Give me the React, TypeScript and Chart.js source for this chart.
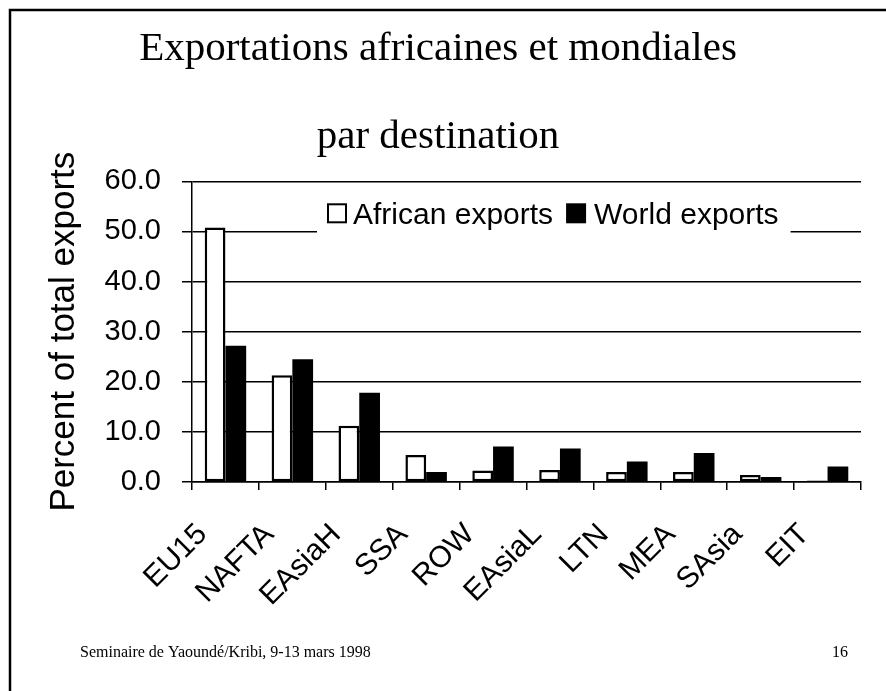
import React, { useEffect, useRef } from 'react';
import { Chart, registerables } from 'chart.js';

Chart.register(...registerables);

const categories = ['EU15', 'NAFTA', 'EAsiaH', 'SSA', 'ROW', 'EAsiaL', 'LTN', 'MEA', 'SAsia', 'EIT'];
const africanExports = [50.8, 21.3, 11.2, 5.4, 2.3, 2.4, 2.0, 2.0, 1.4, 0.3];
const worldExports = [27.2, 24.5, 17.8, 2.0, 7.1, 6.7, 4.1, 5.8, 1.0, 3.1];
const seriesLabels = ['African exports', 'World exports'];
const yMin = 0;
const yMax = 60;
const yStep = 10;
const titleLines = ['Exportations africaines et mondiales', 'par destination'];
const yAxisTitle = 'Percent of total exports';
const footerLeft = 'Seminaire de Yaoundé/Kribi, 9-13 mars 1998';
const footerRight = '16';

const SANS = '"Liberation Sans", Arial, Helvetica, sans-serif';
const SERIF = '"Liberation Serif", "Times New Roman", serif';

const framePlugin = {
  id: 'frame',
  beforeDraw(chart: any) {
    const { ctx, width, height } = chart;
    ctx.save();
    ctx.fillStyle = '#ffffff';
    ctx.fillRect(0, 0, width, height);
    ctx.strokeStyle = '#000000';
    ctx.lineWidth = 2.5;
    ctx.beginPath();
    ctx.moveTo(10, height);
    ctx.lineTo(10, 10);
    ctx.lineTo(width + 5, 10);
    ctx.stroke();
    ctx.restore();
  },
};

const insideLegendPlugin = {
  id: 'insideLegend',
  afterDatasetsDraw(chart: any) {
    const { ctx, chartArea } = chart;
    const left = chartArea.left;
    const top = chartArea.top;
    ctx.save();
    ctx.font = `30px ${SANS}`;
    ctx.textBaseline = 'middle';
    ctx.textAlign = 'left';
    const w1 = ctx.measureText(chart.data.datasets[0].label).width;
    const w2 = ctx.measureText(chart.data.datasets[1].label).width;
    const bgLeft = left + 125;
    const sq = 20;
    const sq1x = bgLeft + 10;
    const t1x = sq1x + sq + 6;
    const sq2x = t1x + w1 + 13;
    const t2x = sq2x + sq + 8;
    const bgRight = t2x + w2 + 12;
    const cy = top + 34;
    ctx.fillStyle = '#ffffff';
    ctx.fillRect(bgLeft, top + 15, bgRight - bgLeft, 42);
    ctx.lineWidth = 2;
    ctx.strokeStyle = '#000000';
    ctx.fillStyle = '#ffffff';
    ctx.fillRect(sq1x, cy - sq / 2 - 2, sq, sq);
    ctx.strokeRect(sq1x + 1, cy - sq / 2 - 1, sq - 2, sq - 2);
    ctx.fillStyle = '#000000';
    ctx.fillRect(sq2x, cy - sq / 2 - 2, sq, sq);
    ctx.fillText(chart.data.datasets[0].label, t1x, cy);
    ctx.fillText(chart.data.datasets[1].label, t2x, cy);
    ctx.restore();
  },
};

const footerPlugin = {
  id: 'footer',
  afterDraw(chart: any) {
    const { ctx } = chart;
    ctx.save();
    ctx.fillStyle = '#000000';
    ctx.font = `16px ${SERIF}`;
    ctx.textBaseline = 'alphabetic';
    ctx.textAlign = 'left';
    ctx.fillText(footerLeft, 80, 657);
    ctx.textAlign = 'right';
    ctx.fillText(footerRight, 848, 657);
    ctx.restore();
  },
};

export default function App() {
  const canvasRef = useRef<HTMLCanvasElement | null>(null);

  useEffect(() => {
    if (!canvasRef.current) return;
    const chart = new Chart(canvasRef.current, {
      type: 'bar',
      data: {
        labels: categories,
        datasets: [
          {
            label: seriesLabels[0],
            data: africanExports,
            backgroundColor: '#ffffff',
            borderColor: '#000000',
            borderWidth: 2.5,
            borderSkipped: false,
          },
          {
            label: seriesLabels[1],
            data: worldExports,
            backgroundColor: '#000000',
            borderColor: '#000000',
            borderWidth: 0,
          },
        ],
      },
      options: {
        responsive: false,
        animation: false,
        events: [],
        layout: { padding: { left: 15, right: 25, top: 0, bottom: 0 } },
        datasets: {
          bar: { categoryPercentage: 0.62, barPercentage: 1 },
        },
        plugins: {
          legend: { display: false },
          tooltip: { enabled: false },
          title: {
            display: true,
            text: titleLines,
            color: '#000000',
            font: { family: SERIF, size: 41, weight: 'normal', lineHeight: 2.15 },
            padding: { top: 5, bottom: 0 },
          },
        },
        scales: {
          x: {
            offset: true,
            afterFit(scale: any) {
              scale.height = 209;
            },
            grid: {
              display: true,
              drawOnChartArea: false,
              drawTicks: true,
              tickLength: 8,
              color: '#000000',
              lineWidth: 1.5,
            },
            border: { display: true, color: '#000000', width: 1.5 },
            ticks: {
              color: '#000000',
              font: { family: SANS, size: 30 },
              minRotation: 45,
              maxRotation: 45,
              autoSkip: false,
              padding: 27,
              labelOffset: -23,
            },
          },
          y: {
            min: yMin,
            max: yMax,
            afterFit(scale: any) {
              scale.width = 177;
            },
            grid: {
              color: '#000000',
              lineWidth: 1.5,
              drawTicks: true,
              tickLength: 10,
            },
            border: { display: true, color: '#000000', width: 1.5 },
            ticks: {
              stepSize: yStep,
              color: '#000000',
              font: { family: SANS, size: 29 },
              padding: 21,
              callback: (v: any) => Number(v).toFixed(1),
            },
            title: {
              display: true,
              text: yAxisTitle,
              color: '#000000',
              font: { family: SANS, size: 35, lineHeight: 1.2 },
              padding: { top: 28, bottom: 0 },
            },
          },
        },
      },
      plugins: [framePlugin, insideLegendPlugin, footerPlugin],
    });
    return () => chart.destroy();
  }, []);

  return (
    <div style={{ position: 'fixed', left: 0, top: 0, width: 886, height: 691, background: '#fff' }}>
      <canvas ref={canvasRef} width={886} height={691} style={{ width: 886, height: 691, display: 'block' }} />
    </div>
  );
}
